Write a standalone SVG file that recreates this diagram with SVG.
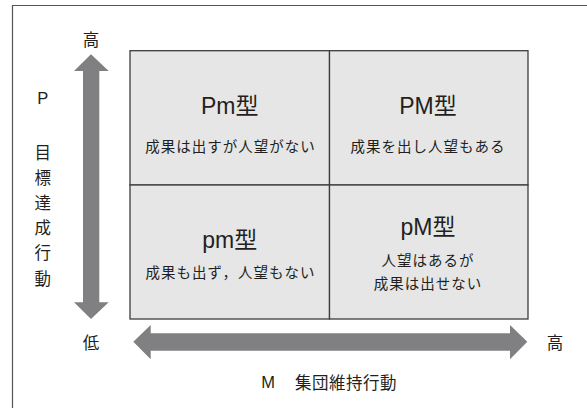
<svg xmlns="http://www.w3.org/2000/svg" width="587" height="408" viewBox="0 0 587 408">
<style>
text{font-family:"Noto Sans CJK JP","Liberation Sans",sans-serif;fill:#231f20;text-anchor:middle;dominant-baseline:central}
.cell{fill:#e6e6e6;stroke:#3c3c3c;stroke-width:1.3}
.ttl{font-family:"Liberation Sans","Noto Sans CJK JP",sans-serif;font-size:23px}
.sub{font-size:14.5px;letter-spacing:1px}
.ax{font-size:16.5px}
.arrow{fill:#808083}
</style>
<rect width="587" height="408" fill="#fff"/>
<path d="M12.5 408V5.5H587" fill="none" stroke="#555" stroke-width="1.2"/>
<g id="connectors">
<path class="arrow" d="M91 54.3L108.7 71H99.3V302.3H108.7L91 319L74 302.3H83V71H74Z"/>
<path class="arrow" d="M133.3 341.7L150.7 325V333.3H510V325L527.3 341.7L510 359.3V350.7H150.7V359.3Z"/>
</g>
<g id="node-Pm">
<rect class="cell" x="130" y="50.7" width="199.5" height="134.3"/>
<text class="ttl" x="229.7" y="106">Pm型</text>
<text class="sub" x="230.5" y="145.7">成果は出すが人望がない</text>
</g>
<g id="node-PM">
<rect class="cell" x="329.5" y="50.7" width="198.5" height="134.3"/>
<text class="ttl" x="428" y="106">PM型</text>
<text class="sub" x="428" y="145.7">成果を出し人望もある</text>
</g>
<g id="node-pm">
<rect class="cell" x="130" y="185" width="199.5" height="134"/>
<text class="ttl" x="229.7" y="240">pm型</text>
<text class="sub" x="230.5" y="271">成果も出ず，人望もない</text>
</g>
<g id="node-pM">
<rect class="cell" x="329.5" y="185" width="198.5" height="134"/>
<text class="ttl" x="428" y="226.7">pM型</text>
<text class="sub" x="428" y="259.3">人望はあるが</text>
<text class="sub" x="428" y="282.7">成果は出せない</text>
</g>
<g id="axis-labels">
<text class="ax" x="91" y="39">高</text>
<text class="ax" x="91" y="341.7">低</text>
<text class="ax" x="555" y="341.7">高</text>
<text class="ax" x="42.7" y="97.7" style="font-family:'Liberation Sans',sans-serif">P</text>
<text class="ax" x="42.7" y="151.7">目</text>
<text class="ax" x="42.7" y="176.7">標</text>
<text class="ax" x="42.7" y="201.7">達</text>
<text class="ax" x="42.7" y="227">成</text>
<text class="ax" x="42.7" y="251.7">行</text>
<text class="ax" x="42.7" y="277.7">動</text>
<text class="ax" x="268" y="381.7" style="font-family:'Liberation Sans',sans-serif">M</text>
<text class="ax" x="346" y="381.7" style="letter-spacing:0.5px">集団維持行動</text>
</g>
</svg>
